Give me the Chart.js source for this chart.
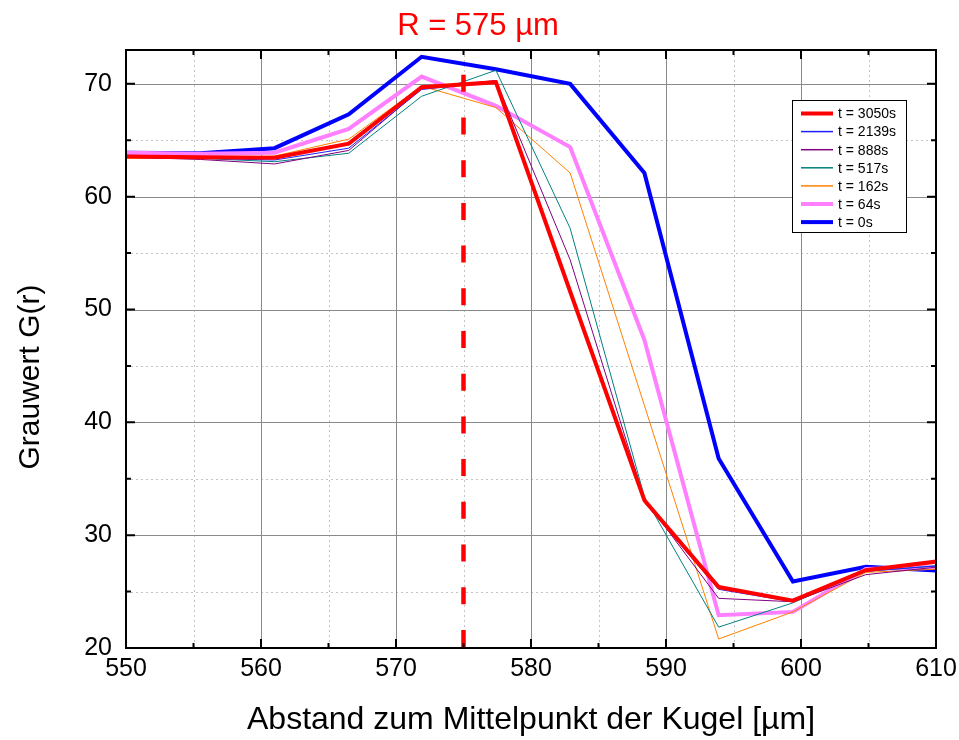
<!DOCTYPE html>
<html>
<head>
<meta charset="UTF-8"/>
<title>Grauwert</title>
<script src="https://cdn.jsdelivr.net/npm/chart.js@4.4.1/dist/chart.umd.min.js"></script>
<style>
  body { margin: 0; background: #fff; }
</style>
</head>
<body>
<canvas id="chart" width="959" height="740"></canvas>
<script>
// radius positions (µm) of the profile samples
const radius = [550.0, 555.5, 561.0, 566.5, 571.9, 577.4, 582.9, 588.4, 593.9, 599.4, 604.8, 610.3];

const t3050 = [63.55, 63.5, 63.45, 64.7, 69.7, 70.15, 51.6, 33.1, 25.4, 24.2, 26.9, 27.7];
const t2139 = [63.6, 63.4, 63.25, 64.3, 69.5, 70.2, 51.8, 32.9, 25.2, 24.1, 26.8, 27.3];
const t888  = [63.5, 63.3, 62.9, 64.1, 69.6, 70.3, 54.4, 33.2, 24.4, 24.1, 26.5, 27.2];
const t517  = [63.5, 63.4, 63.1, 63.85, 68.9, 71.2, 57.2, 33.4, 21.85, 24.0, 26.8, 27.3];
const t162  = [63.4, 63.4, 63.6, 65.1, 69.8, 67.9, 62.1, 41.5, 20.8, 23.2, 26.7, 27.0];
const t64   = [63.9, 63.8, 63.9, 66.0, 70.65, 68.05, 64.4, 47.3, 22.9, 23.2, 27.0, 27.2];
const t0    = [63.9, 63.85, 64.3, 67.3, 72.4, 71.3, 70.0, 62.1, 36.8, 25.9, 27.2, 26.85];

const seriesLabels = ['t = 3050s', 't = 2139s', 't = 888s', 't = 517s', 't = 162s', 't = 64s', 't = 0s'];
const seriesColors = ['#ff0000', '#2020ff', '#800080', '#008080', '#ff8000', '#ff80ff', '#0000ff'];
const seriesWidths = [4, 1, 1, 1, 1, 4, 4];
const series = [t3050, t2139, t888, t517, t162, t64, t0];

// sphere radius marker
const markerX = [575, 575];
const markerY = [70.8, 20];

const xTicks = [550, 560, 570, 580, 590, 600, 610];
const yTicks = [20, 30, 40, 50, 60, 70];
const xMinor = [555, 565, 575, 585, 595, 605];
const yMinor = [25, 35, 45, 55, 65];

const FONT = "'Liberation Sans', Arial, sans-serif";

const datasets = series.map((vals, i) => ({
    label: seriesLabels[i],
    data: vals.map((v, j) => ({x: radius[j], y: v})),
    borderColor: seriesColors[i],
    backgroundColor: seriesColors[i],
    borderWidth: seriesWidths[i],
    pointRadius: 0,
    tension: 0,
    clip: 0
}));
datasets.push({
    label: 'R',
    data: markerX.map((v, j) => ({x: v, y: markerY[j]})),
    borderColor: '#ff0000',
    borderWidth: 4.5,
    borderDash: [17, 25.7],
    borderCapStyle: 'butt',
    pointRadius: 0,
    order: -1,
    clip: 0
});

const framePlugin = {
    id: 'frame',
    beforeDatasetsDraw(chart) {
        const {ctx, chartArea: a, scales: {x, y}} = chart;
        ctx.save();
        ctx.lineWidth = 1;
        ctx.strokeStyle = '#c4c4c4';
        ctx.setLineDash([2, 3]);
        xMinor.forEach(v => {
            const px = Math.round(x.getPixelForValue(v)) + 0.5;
            ctx.beginPath(); ctx.moveTo(px, a.top); ctx.lineTo(px, a.bottom); ctx.stroke();
        });
        yMinor.forEach(v => {
            const py = Math.round(y.getPixelForValue(v)) + 0.5;
            ctx.beginPath(); ctx.moveTo(a.left, py); ctx.lineTo(a.right, py); ctx.stroke();
        });
        ctx.setLineDash([]);
        ctx.strokeStyle = '#8a8a8a';
        xTicks.forEach(v => {
            const px = Math.round(x.getPixelForValue(v)) + 0.5;
            ctx.beginPath(); ctx.moveTo(px, a.top); ctx.lineTo(px, a.bottom); ctx.stroke();
        });
        yTicks.forEach(v => {
            const py = Math.round(y.getPixelForValue(v)) + 0.5;
            ctx.beginPath(); ctx.moveTo(a.left, py); ctx.lineTo(a.right, py); ctx.stroke();
        });
        ctx.restore();
    },
    afterDraw(chart) {
        const {ctx, chartArea: a, scales: {x, y}} = chart;
        ctx.save();
        ctx.strokeStyle = '#000';
        ctx.lineWidth = 2;
        ctx.strokeRect(a.left, a.top, a.right - a.left, a.bottom - a.top);
        const tick = (v, len, horiz) => {
            if (horiz) {
                const px = x.getPixelForValue(v);
                ctx.beginPath(); ctx.moveTo(px, a.bottom); ctx.lineTo(px, a.bottom - len);
                ctx.moveTo(px, a.top); ctx.lineTo(px, a.top + len); ctx.stroke();
            } else {
                const py = y.getPixelForValue(v);
                ctx.beginPath(); ctx.moveTo(a.left, py); ctx.lineTo(a.left + len, py);
                ctx.moveTo(a.right, py); ctx.lineTo(a.right - len, py); ctx.stroke();
            }
        };
        xTicks.forEach(v => tick(v, 9, true));
        xMinor.forEach(v => tick(v, 5, true));
        yTicks.forEach(v => tick(v, 9, false));
        yMinor.forEach(v => tick(v, 5, false));

        // title
        ctx.fillStyle = '#ff0000';
        ctx.font = '31px ' + FONT;
        ctx.textAlign = 'center';
        ctx.textBaseline = 'alphabetic';
        ctx.fillText('R = 575 µm', 478, 35);

        // y axis title
        ctx.fillStyle = '#000';
        ctx.font = '30px ' + FONT;
        ctx.textBaseline = 'middle';
        ctx.translate(31, 377);
        ctx.rotate(-Math.PI / 2);
        ctx.fillText('Grauwert G(r)', 0, 0);
        ctx.setTransform(1, 0, 0, 1, 0, 0);

        // legend box
        const lx = 792, ly = 100, lw = 114, lh = 132;
        ctx.fillStyle = '#fff';
        ctx.fillRect(lx, ly, lw, lh);
        ctx.lineWidth = 1;
        ctx.strokeStyle = '#000';
        ctx.strokeRect(lx + 0.5, ly + 0.5, lw, lh);
        ctx.font = '14px ' + FONT;
        ctx.textAlign = 'left';
        ctx.textBaseline = 'middle';
        seriesLabels.forEach((lab, i) => {
            const ry = ly + 13.5 + i * 18.1;
            ctx.strokeStyle = seriesColors[i];
            ctx.lineWidth = seriesWidths[i] === 1 ? 1.5 : seriesWidths[i];
            ctx.beginPath(); ctx.moveTo(801, ry); ctx.lineTo(833, ry); ctx.stroke();
            ctx.fillStyle = '#000';
            ctx.fillText(lab, 838, ry + 1);
        });
        ctx.restore();
    }
};

new Chart(document.getElementById('chart'), {
    type: 'line',
    data: {datasets},
    options: {
        responsive: false,
        animation: false,
        layout: {padding: {left: 0, right: 23, top: 50, bottom: 0}},
        plugins: {
            legend: {display: false},
            tooltip: {enabled: false},
            title: {display: false}
        },
        scales: {
            x: {
                type: 'linear',
                min: 550,
                max: 610,
                afterBuildTicks: s => { s.ticks = xTicks.map(v => ({value: v})); },
                afterFit: s => { s.height = 92; s.paddingLeft = 0; s.paddingRight = 0; },
                grid: {display: false, drawTicks: false},
                border: {display: false},
                ticks: {color: '#000', font: {family: FONT, size: 25}, padding: 6, maxRotation: 0},
                title: {
                    display: true,
                    text: 'Abstand zum Mittelpunkt der Kugel [µm]',
                    color: '#000',
                    font: {family: FONT, size: 32},
                    padding: {top: 0, bottom: 1}
                }
            },
            y: {
                min: 20,
                max: 73,
                afterBuildTicks: s => { s.ticks = yTicks.map(v => ({value: v})); },
                afterFit: s => { s.width = 126; s.paddingTop = 0; s.paddingBottom = 0; },
                grid: {display: false, drawTicks: false},
                border: {display: false},
                ticks: {color: '#000', font: {family: FONT, size: 25}, padding: 14}
            }
        }
    },
    plugins: [framePlugin]
});
</script>
</body>
</html>
